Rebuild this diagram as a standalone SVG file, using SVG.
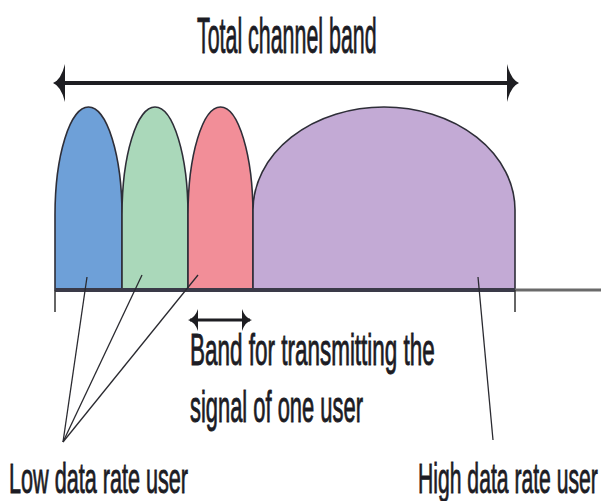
<svg xmlns="http://www.w3.org/2000/svg" width="601" height="501" viewBox="0 0 601 501">
<style>
.lobe{stroke:#2e2e38;stroke-width:1.6;stroke-linejoin:round}
.lbl{font-family:"Liberation Sans","DejaVu Sans",Arial,sans-serif;fill:#1c1c24;stroke:#1c1c24;stroke-width:0.9}
.ptr{stroke:#2a2a30;stroke-width:1.3;fill:none}
.tick{stroke:#333;stroke-width:1.5}
</style>
<defs>
<marker id="bigHead" markerUnits="userSpaceOnUse" markerWidth="14" markerHeight="40" viewBox="0 0 14 40" refX="10" refY="20" orient="auto-start-reverse">
<path d="M13,20 Q5,17 1,1 L1,39 Q5,23 13,20 Z" fill="#1e1e22"/>
</marker>
<marker id="smallHead" markerUnits="userSpaceOnUse" markerWidth="12" markerHeight="24" viewBox="0 0 12 24" refX="9" refY="12" orient="auto-start-reverse">
<path d="M11,12 Q4,10 1,1 L1,23 Q4,14 11,12 Z" fill="#1e1e22"/>
</marker>
</defs>
<rect width="601" height="501" fill="#ffffff"/>

<g id="title">
<text class="lbl" transform="translate(197,53) scale(0.428,1)" x="0" y="0" font-size="50">Total channel band</text>
</g>

<g id="lobe-blue"><path class="lobe" fill="#6ea0d8" d="M55,290 L55,215 A33.5,108 0 0 1 122,215 L122,290 Z"/></g>
<g id="lobe-green"><path class="lobe" fill="#aad8ba" d="M122,290 L122,215 A33,108 0 0 1 188,215 L188,290 Z"/></g>
<g id="lobe-red"><path class="lobe" fill="#f28e98" d="M188,290 L188,215 A32.5,108 0 0 1 253,215 L253,290 Z"/></g>
<g id="lobe-purple"><path class="lobe" fill="#c3aad5" d="M253,290 L253,210 A131,103 0 0 1 515,210 L515,290 Z"/></g>

<g id="axis">
<line x1="55" y1="290" x2="515" y2="290" stroke="#3a3a48" stroke-width="4"/>
<line x1="515" y1="290" x2="601" y2="290" stroke="#6a6a6a" stroke-width="3"/>
<line class="tick" x1="55" y1="290" x2="55" y2="312"/>
<line class="tick" x1="515" y1="290" x2="515" y2="312"/>
</g>

<g id="connectors">
<line x1="56" y1="83" x2="516" y2="83" stroke="#1e1e22" stroke-width="4" marker-start="url(#bigHead)" marker-end="url(#bigHead)"/>
<line x1="190" y1="320" x2="250" y2="320" stroke="#1e1e22" stroke-width="3" marker-start="url(#smallHead)" marker-end="url(#smallHead)"/>
<line class="ptr" x1="63" y1="442" x2="87" y2="277"/>
<line class="ptr" x1="63" y1="442" x2="142" y2="275"/>
<line class="ptr" x1="63" y1="442" x2="198" y2="275"/>
<line class="ptr" x1="478" y1="277" x2="493" y2="440"/>
</g>

<g id="label-band">
<text class="lbl" transform="translate(190,365) scale(0.511,1)" x="0" y="0" font-size="44">Band for transmitting the</text>
<text class="lbl" transform="translate(190,422) scale(0.498,1)" x="0" y="0" font-size="44">signal of one user</text>
</g>
<g id="label-low">
<text class="lbl" transform="translate(9,493) scale(0.503,1)" x="0" y="0" font-size="43">Low data rate user</text>
</g>
<g id="label-high">
<text class="lbl" transform="translate(418,493) scale(0.492,1)" x="0" y="0" font-size="43">High data rate user</text>
</g>
</svg>
